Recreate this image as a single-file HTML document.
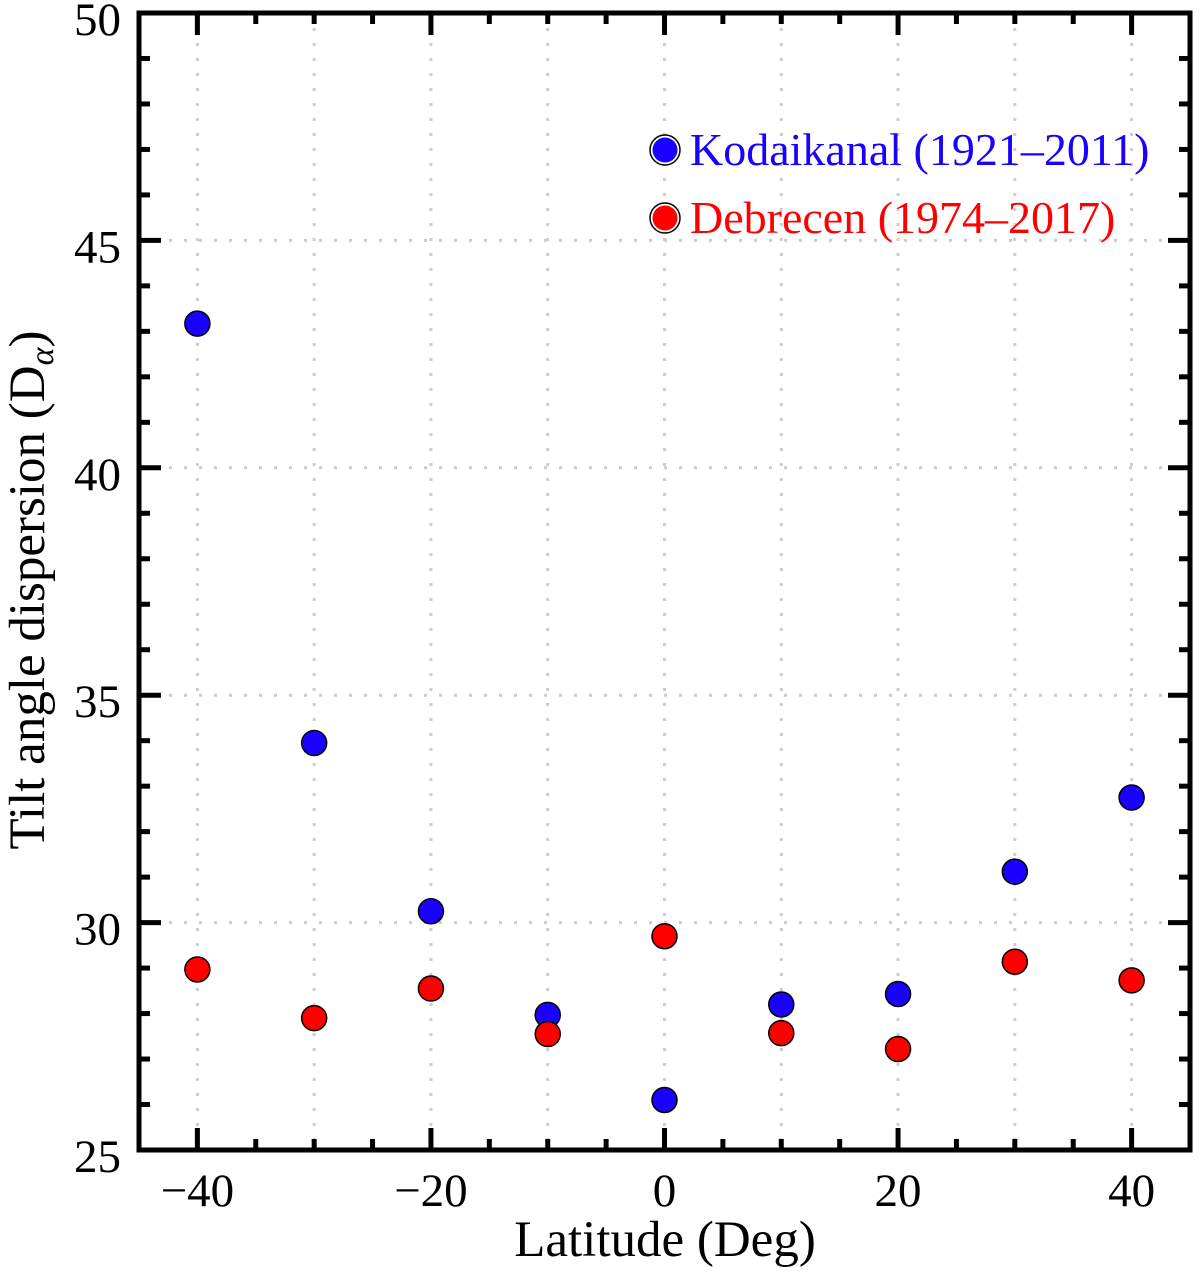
<!DOCTYPE html>
<html><head><meta charset="utf-8"><style>body{margin:0;background:#fff}svg{display:block}</style></head>
<body>
<svg id="chart" width="1200" height="1272" xmlns="http://www.w3.org/2000/svg" font-family="'Liberation Serif', serif"></svg>
<script>
const latitudes = [-40,-30,-20,-10,0,10,20,30,40];
const kodaikanal = [43.17,33.95,30.25,27.97,26.1,28.2,28.43,31.12,32.75];
const debrecen = [28.97,27.9,28.55,27.55,29.7,27.57,27.22,29.14,28.73];
const xTickLabels = [-40,-20,0,20,40];
const yTickLabels = [25,30,35,40,45,50];
const L=139,R=1190,T=13,B=1150;
const xs=v=>L+(v+45)/90*(R-L);
const ys=v=>B-(v-25)/25*(B-T);
const svg=document.getElementById('chart');
const NS='http://www.w3.org/2000/svg';
function mk(tag,attrs,parent){const e=document.createElementNS(NS,tag);for(const k in attrs)e.setAttribute(k,attrs[k]);(parent||svg).appendChild(e);return e;}
for(let v=-40;v<=40;v+=10){const g=mk('line',{x1:xs(v),x2:xs(v),y1:T,y2:B,stroke:'#ccc','stroke-width':3,'stroke-dasharray':'3 12'});

}
for(let v=30;v<50;v+=5){const g=mk('line',{x1:L,x2:R,y1:ys(v),y2:ys(v),stroke:'#ccc','stroke-width':3,'stroke-dasharray':'3 12'});

}
for(let v=-45;v<=45;v+=5){const major=v%20===0;const len=major?22:11;
[[B,B-len],[T,T+len]].forEach(([a,b])=>{const t=mk('line',{x1:xs(v),x2:xs(v),y1:a,y2:b,stroke:'#000','stroke-width':5});

});}
for(let v=25;v<=50;v+=1){const major=v%5===0;const len=major?22:11;
[[L,L+len],[R,R-len]].forEach(([a,b])=>{const t=mk('line',{x1:a,x2:b,y1:ys(v),y2:ys(v),stroke:'#000','stroke-width':5});

});}
const fr=mk('rect',{x:L,y:T,width:R-L,height:B-T,fill:'none',stroke:'#000','stroke-width':5});


xTickLabels.forEach(v=>{const t=mk('text',{x:xs(v),y:1206,'font-size':47,'text-anchor':'middle'});t.textContent=v<0?'\u2212'+(-v):v;

});
yTickLabels.forEach(v=>{const t=mk('text',{x:121,y:ys(v)+22,'font-size':47,'text-anchor':'end'});t.textContent=v;

});
const xt=mk('text',{x:665,y:1256,'font-size':51,'text-anchor':'middle'});xt.textContent='Latitude (Deg)';


const yt=mk('text',{x:0,y:0,'font-size':51,'text-anchor':'middle',transform:'translate(44,590) rotate(-90)'});
yt.innerHTML='Tilt angle dispersion (D<tspan font-size="34" dy="9" font-style="italic">α</tspan><tspan dy="-9">)</tspan>';


function series(vals,color,name){latitudes.forEach((x,i)=>{const c=mk('circle',{cx:xs(x),cy:ys(vals[i]),r:12.5,fill:color,stroke:'#000','stroke-width':1.5});

});}
series(kodaikanal,'#1a00ff','kodaikanal');
series(debrecen,'#ff0000','debrecen');
[['#1a00ff','Kodaikanal (1921\u20132011)',150,'legend-kodaikanal'],['#ff0000','Debrecen (1974\u20132017)',218,'legend-debrecen']].forEach(([c,l,y,n])=>{
const g=mk('g',{});


mk('circle',{cx:665,cy:y,r:15,fill:'#fff',stroke:'#000','stroke-width':1.5},g);
mk('circle',{cx:665,cy:y,r:12.5,fill:c},g);
const t=mk('text',{x:690,y:y+15,'font-size':46,fill:c},g);t.textContent=l;});
</script>
</body></html>
